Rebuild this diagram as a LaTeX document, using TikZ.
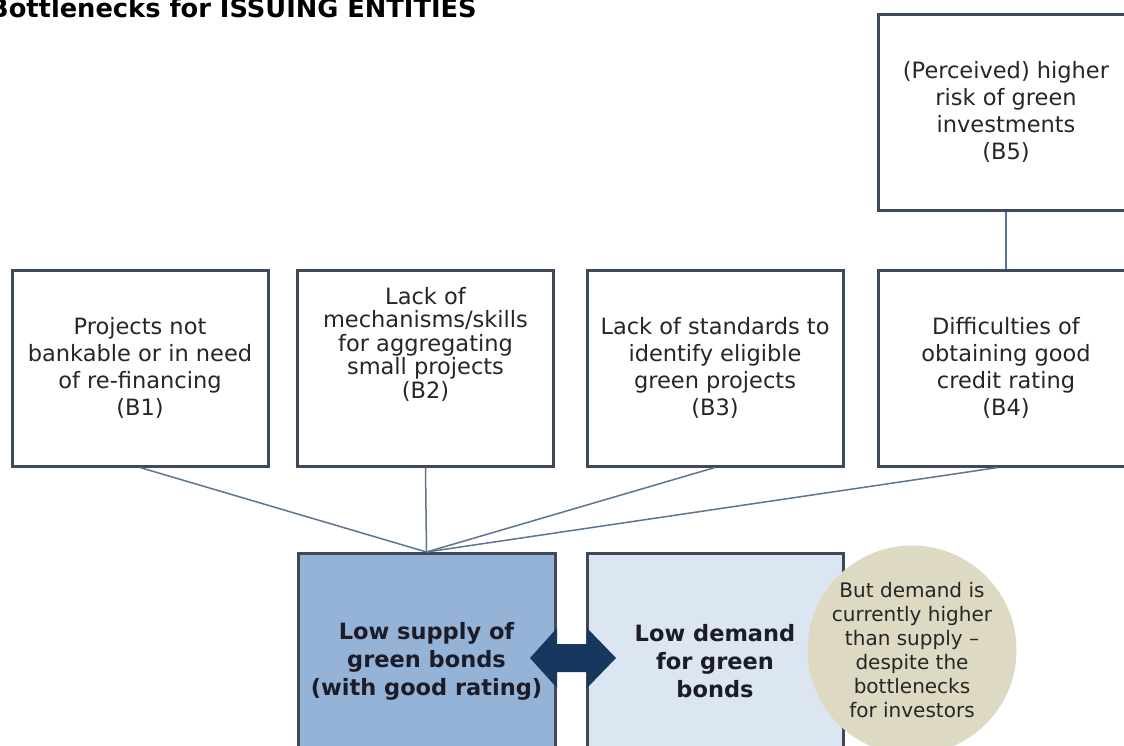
\documentclass[tikz,border=0pt]{standalone}
\usepackage{fontspec}
\setmainfont{DejaVu Sans}
\usetikzlibrary{calc}
\definecolor{bord}{HTML}{3E4A59}
\definecolor{conn}{HTML}{5B7593}
\definecolor{supplyfill}{HTML}{95B3D7}
\definecolor{demandfill}{HTML}{DCE6F2}
\definecolor{circfill}{HTML}{DDD9C3}
\definecolor{arrowfill}{HTML}{17375E}
\definecolor{txt}{HTML}{262626}
\definecolor{boldtxt}{HTML}{1C1C28}
\tikzset{
  bbox/.style={draw=bord, line width=3pt, fill=white, minimum width=256pt,
    minimum height=196pt, align=center, text=txt, inner sep=0pt,
    font=\fontsize{22.5}{27}\selectfont},
  plaintext/.style={align=center, text=txt, inner sep=0pt,
    font=\fontsize{22.5}{23.5}\selectfont},
  bigbox/.style={draw=bord, line width=3pt, minimum width=257pt,
    minimum height=215pt, align=center, text=boldtxt, inner sep=0pt,
    font=\bfseries\fontsize{22.5}{28}\selectfont},
  connline/.style={draw=conn, line width=1.5pt},
  bubble/.style={circle, fill=circfill, minimum size=200pt, inner sep=0pt,
    align=center, text=txt, font=\fontsize{20}{24}\selectfont},
  twoarrow/.style={fill=arrowfill}
}
\begin{document}
\begin{tikzpicture}[x=1pt,y=-1pt]
\useasboundingbox (0,0) rectangle (1124,745);
\clip (0,0) rectangle (1124,745);
\fill[white] (0,0) rectangle (1124,745);

\node[anchor=base west, inner sep=0pt, text=black,
  font=\bfseries\fontsize{25.7}{30}\selectfont] (title) at (-11,17)
  {Bottlenecks for ISSUING ENTITIES};

\node[bbox] (b1) at (140,368) {Projects not\\bankable or in need\\of re-financing\\(B1)};
\node[bbox] (b2) at (425.5,368) {};
\node[plaintext] (b2text) at (425.5,344) {Lack of\\mechanisms/skills\\for aggregating\\small projects\\(B2)};
\node[bbox] (b3) at (715,368) {Lack of standards to\\identify eligible\\green projects\\(B3)};
\node[bbox] (b4) at (1006,368) {Difficulties of\\obtaining good\\credit rating\\(B4)};
\node[bbox] (b5) at (1006,112) {(Perceived) higher\\risk of green\\investments\\(B5)};

\node[bigbox, fill=supplyfill] (supply) at (426.5,661) {Low supply of\\green bonds\\(with good rating)};
\node[bigbox, fill=demandfill, minimum width=256pt] (demand) at (715,661) {Low demand\\for green\\bonds};

\node[bubble] (note) at (912,650) {But demand is\\currently higher\\than supply –\\despite the\\bottlenecks\\for investors};

\draw[connline] (b5.south) -- (b4.north);
\draw[connline] (b1.south) -- (supply.north);
\draw[connline] (b2.south) -- (supply.north);
\draw[connline] (b3.south) -- (supply.north);
\draw[connline] ($(b4.south)+(-8,0)$) -- (supply.north);

\fill[twoarrow] (530,658) -- (557,628) -- (557,644) -- (587,644) -- (587,628)
  -- (616,658) -- (587,688) -- (587,672) -- (557,672) -- (557,688) -- cycle;
\end{tikzpicture}
\end{document}
